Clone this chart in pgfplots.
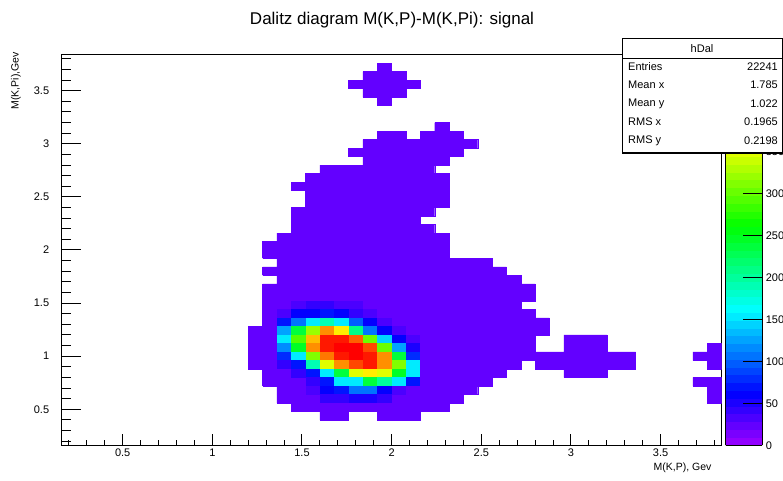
\documentclass[border=0pt]{standalone}
\usepackage{fontspec}
\setmainfont{Liberation Sans}
\usepackage{pgfplots}
\pgfplotsset{compat=1.18}
\pgfdeclareplotmark{binmark}{\pgfpathrectangle{\pgfqpoint{-7.25pt}{-4.35pt}}{\pgfqpoint{14.5pt}{8.7pt}}\pgfusepathqfill}
\definecolor{rootbase}{RGB}{99,0,255}
\begin{document}
\begin{tikzpicture}
\useasboundingbox (0,0) rectangle (783pt,480pt);
\begin{axis}[
  at={(61.7pt,34.6pt)}, anchor=south west,
  scale only axis, width=659.9pt, height=390.8pt,
  xmin=0.16, xmax=3.84, ymin=0.16, ymax=3.84,
  xtick={0,0.5,...,4}, ytick={0,0.5,...,4},
  minor x tick num=4, minor y tick num=4,
  tick pos=left, tick align=inside,
  major tick length=19pt, minor tick length=9.5pt,
  xtick style={/pgfplots/major tick length=11pt,/pgfplots/minor tick length=5.5pt},
  every tick/.style={black, line width=1pt},
  axis line style={line width=1pt},
  tick label style={font=\fontsize{11}{13}\selectfont},
  yticklabel style={xshift=-9pt},
  /pgf/number format/assume math mode=true,
  point meta min=0, point meta max=465,
  colormap={root}{rgb255=(146,0,255) rgb255=(122,0,255) rgb255=(99,0,255) rgb255=(75,0,255) rgb255=(51,0,255) rgb255=(27,0,255) rgb255=(3,0,255) rgb255=(0,20,255) rgb255=(0,44,255) rgb255=(0,68,255) rgb255=(0,92,255) rgb255=(0,116,255) rgb255=(0,139,255) rgb255=(0,163,255) rgb255=(0,187,255) rgb255=(0,211,255) rgb255=(0,235,255) rgb255=(0,255,252) rgb255=(0,255,228) rgb255=(0,255,204) rgb255=(0,255,180) rgb255=(0,255,156) rgb255=(0,255,133) rgb255=(0,255,109) rgb255=(0,255,85) rgb255=(0,255,61) rgb255=(0,255,37) rgb255=(0,255,14) rgb255=(10,255,0) rgb255=(34,255,0) rgb255=(58,255,0) rgb255=(82,255,0) rgb255=(105,255,0) rgb255=(129,255,0) rgb255=(153,255,0) rgb255=(177,255,0) rgb255=(201,255,0) rgb255=(224,255,0) rgb255=(248,255,0) rgb255=(255,238,0) rgb255=(255,214,0) rgb255=(255,190,0) rgb255=(255,167,0) rgb255=(255,143,0) rgb255=(255,119,0) rgb255=(255,95,0) rgb255=(255,71,0) rgb255=(255,48,0) rgb255=(255,24,0) rgb255=(255,0,0)},
  colormap access=piecewise constant,
  colorbar,
  colorbar style={
    at={(parent axis.north east)}, anchor=north west, xshift=-4.6pt,
    scale only axis, width=36.7pt, height=390.8pt,
    ytick={0,50,...,350},
    ytick pos=right, yticklabel pos=right, tick align=inside,
    major tick length=19pt,
    every tick/.style={black, line width=1pt},
    axis line style={line width=1pt},
    yticklabel style={font=\fontsize{11}{13}\selectfont, xshift=0pt},
    /pgf/number format/assume math mode=true,
  },
]
% region of filled bins (low counts), one rectangle per row run
\addplot[draw=rootbase, fill=rootbase, line width=0.35pt, unbounded coords=jump, forget plot] coordinates {
(1.92,3.68) (2.00,3.68) (2.00,3.76) (1.92,3.76) (1.92,3.68) (nan,nan)
(1.84,3.60) (2.08,3.60) (2.08,3.68) (1.84,3.68) (1.84,3.60) (nan,nan)
(1.76,3.52) (2.16,3.52) (2.16,3.60) (1.76,3.60) (1.76,3.52) (nan,nan)
(1.84,3.44) (2.08,3.44) (2.08,3.52) (1.84,3.52) (1.84,3.44) (nan,nan)
(1.92,3.36) (2.00,3.36) (2.00,3.44) (1.92,3.44) (1.92,3.36) (nan,nan)
(2.24,3.12) (2.32,3.12) (2.32,3.20) (2.24,3.20) (2.24,3.12) (nan,nan)
(1.92,3.04) (2.08,3.04) (2.08,3.12) (1.92,3.12) (1.92,3.04) (nan,nan)
(2.16,3.04) (2.40,3.04) (2.40,3.12) (2.16,3.12) (2.16,3.04) (nan,nan)
(1.84,2.96) (2.48,2.96) (2.48,3.04) (1.84,3.04) (1.84,2.96) (nan,nan)
(1.76,2.88) (2.40,2.88) (2.40,2.96) (1.76,2.96) (1.76,2.88) (nan,nan)
(1.84,2.80) (2.32,2.80) (2.32,2.88) (1.84,2.88) (1.84,2.80) (nan,nan)
(1.60,2.72) (2.24,2.72) (2.24,2.80) (1.60,2.80) (1.60,2.72) (nan,nan)
(1.52,2.64) (2.32,2.64) (2.32,2.72) (1.52,2.72) (1.52,2.64) (nan,nan)
(1.44,2.56) (2.32,2.56) (2.32,2.64) (1.44,2.64) (1.44,2.56) (nan,nan)
(1.52,2.48) (2.32,2.48) (2.32,2.56) (1.52,2.56) (1.52,2.48) (nan,nan)
(1.52,2.40) (2.32,2.40) (2.32,2.48) (1.52,2.48) (1.52,2.40) (nan,nan)
(1.44,2.32) (2.24,2.32) (2.24,2.40) (1.44,2.40) (1.44,2.32) (nan,nan)
(1.44,2.24) (2.16,2.24) (2.16,2.32) (1.44,2.32) (1.44,2.24) (nan,nan)
(1.44,2.16) (2.24,2.16) (2.24,2.24) (1.44,2.24) (1.44,2.16) (nan,nan)
(1.36,2.08) (2.32,2.08) (2.32,2.16) (1.36,2.16) (1.36,2.08) (nan,nan)
(1.28,2.00) (2.32,2.00) (2.32,2.08) (1.28,2.08) (1.28,2.00) (nan,nan)
(1.28,1.92) (2.32,1.92) (2.32,2.00) (1.28,2.00) (1.28,1.92) (nan,nan)
(1.36,1.84) (2.56,1.84) (2.56,1.92) (1.36,1.92) (1.36,1.84) (nan,nan)
(1.28,1.76) (2.64,1.76) (2.64,1.84) (1.28,1.84) (1.28,1.76) (nan,nan)
(1.36,1.68) (2.72,1.68) (2.72,1.76) (1.36,1.76) (1.36,1.68) (nan,nan)
(1.28,1.60) (2.80,1.60) (2.80,1.68) (1.28,1.68) (1.28,1.60) (nan,nan)
(1.28,1.52) (2.80,1.52) (2.80,1.60) (1.28,1.60) (1.28,1.52) (nan,nan)
(1.28,1.44) (2.72,1.44) (2.72,1.52) (1.28,1.52) (1.28,1.44) (nan,nan)
(1.28,1.36) (2.80,1.36) (2.80,1.44) (1.28,1.44) (1.28,1.36) (nan,nan)
(1.28,1.28) (2.88,1.28) (2.88,1.36) (1.28,1.36) (1.28,1.28) (nan,nan)
(1.20,1.20) (2.88,1.20) (2.88,1.28) (1.20,1.28) (1.20,1.20) (nan,nan)
(1.20,1.12) (2.80,1.12) (2.80,1.20) (1.20,1.20) (1.20,1.12) (nan,nan)
(1.20,1.04) (2.80,1.04) (2.80,1.12) (1.20,1.12) (1.20,1.04) (nan,nan)
(1.20,0.96) (2.88,0.96) (2.88,1.04) (1.20,1.04) (1.20,0.96) (nan,nan)
(1.20,0.88) (2.72,0.88) (2.72,0.96) (1.20,0.96) (1.20,0.88) (nan,nan)
(1.28,0.80) (2.64,0.80) (2.64,0.88) (1.28,0.88) (1.28,0.80) (nan,nan)
(1.28,0.72) (2.56,0.72) (2.56,0.80) (1.28,0.80) (1.28,0.72) (nan,nan)
(1.36,0.64) (2.48,0.64) (2.48,0.72) (1.36,0.72) (1.36,0.64) (nan,nan)
(1.36,0.56) (2.40,0.56) (2.40,0.64) (1.36,0.64) (1.36,0.56) (nan,nan)
(1.44,0.48) (2.32,0.48) (2.32,0.56) (1.44,0.56) (1.44,0.48) (nan,nan)
(1.60,0.40) (1.76,0.40) (1.76,0.48) (1.60,0.48) (1.60,0.40) (nan,nan)
(1.92,0.40) (2.16,0.40) (2.16,0.48) (1.92,0.48) (1.92,0.40) (nan,nan)
(2.96,1.12) (3.20,1.12) (3.20,1.20) (2.96,1.20) (2.96,1.12) (nan,nan)
(2.96,1.04) (3.20,1.04) (3.20,1.12) (2.96,1.12) (2.96,1.04) (nan,nan)
(2.80,0.96) (3.36,0.96) (3.36,1.04) (2.80,1.04) (2.80,0.96) (nan,nan)
(2.80,0.88) (3.36,0.88) (3.36,0.96) (2.80,0.96) (2.80,0.88) (nan,nan)
(2.96,0.80) (3.20,0.80) (3.20,0.88) (2.96,0.88) (2.96,0.80) (nan,nan)
(3.76,0.88) (3.84,0.88) (3.84,1.12) (3.76,1.12) (3.76,0.88) (nan,nan)
(3.68,0.96) (3.76,0.96) (3.76,1.04) (3.68,1.04) (3.68,0.96) (nan,nan)
(3.76,0.56) (3.84,0.56) (3.84,0.80) (3.76,0.80) (3.76,0.56) (nan,nan)
(3.68,0.72) (3.76,0.72) (3.76,0.80) (3.68,0.80) (3.68,0.72)
};
% bins of the signal peak, bin centre and content
\addplot[scatter, only marks, mark=binmark, point meta=explicit,
  scatter/use mapped color={draw=mapped color, fill=mapped color}] table[meta=z] {
x y z
1.48 1.48 35
1.56 1.48 40
1.64 1.48 40
1.72 1.48 35
1.80 1.48 30
1.40 1.40 35
1.48 1.40 60
1.56 1.40 65
1.64 1.40 70
1.72 1.40 65
1.80 1.40 45
1.88 1.40 35
1.40 1.32 70
1.48 1.32 110
1.56 1.32 150
1.64 1.32 190
1.72 1.32 150
1.80 1.32 100
1.88 1.32 60
1.96 1.32 35
1.40 1.24 130
1.48 1.24 240
1.56 1.24 320
1.64 1.24 400
1.72 1.24 370
1.80 1.24 210
1.88 1.24 110
1.96 1.24 60
2.04 1.24 35
1.40 1.16 150
1.48 1.16 290
1.56 1.16 390
1.64 1.16 455
1.72 1.16 455
1.80 1.16 420
1.88 1.16 300
1.96 1.16 140
2.04 1.16 60
2.12 1.16 30
1.40 1.08 120
1.48 1.08 250
1.56 1.08 400
1.64 1.08 455
1.72 1.08 460
1.80 1.08 460
1.88 1.08 430
1.96 1.08 300
2.04 1.08 130
2.12 1.08 50
1.40 1.00 80
1.48 1.00 150
1.56 1.00 310
1.64 1.00 410
1.72 1.00 450
1.80 1.00 460
1.88 1.00 455
1.96 1.00 400
2.04 1.00 240
2.12 1.00 80
1.40 0.92 40
1.48 0.92 70
1.56 0.92 190
1.64 0.92 350
1.72 0.92 400
1.80 0.92 430
1.88 0.92 450
1.96 0.92 400
2.04 0.92 310
2.12 0.92 150
1.48 0.84 40
1.56 0.84 70
1.64 0.84 150
1.72 0.84 240
1.80 0.84 350
1.88 0.84 370
1.96 0.84 350
2.04 0.84 250
2.12 0.84 150
1.56 0.76 40
1.64 0.76 70
1.72 0.76 150
1.80 0.76 150
1.88 0.76 240
1.96 0.76 200
2.04 0.76 150
2.12 0.76 70
1.56 0.68 35
1.64 0.68 65
1.72 0.68 70
1.80 0.68 110
1.88 0.68 110
1.96 0.68 65
2.04 0.68 35
1.64 0.60 40
1.72 0.60 45
1.80 0.60 50
1.88 0.60 50
1.96 0.60 40
};
\end{axis}
% title, axis titles
\node[font=\fontsize{17}{20}\selectfont] at (392pt,460pt) {Dalitz diagram M(K,P)-M(K,Pi): signal};
\node[font=\fontsize{10.5}{12}\selectfont, anchor=south east] at (715pt,4pt) {M(K,P), Gev};
\node[font=\fontsize{10.5}{12}\selectfont, rotate=90, anchor=east, inner sep=0pt] at (16pt,428pt) {M(K,Pi),Gev};
% statistics box
\draw[fill=white, line width=1pt] (622pt,441pt) rectangle (782pt,327pt);
\draw[line width=0.8pt] (622pt,422pt) -- (782pt,422pt);
\node[font=\fontsize{11}{13}\selectfont] at (702pt,431.5pt) {hDal};
\begin{scope}[every node/.style={font=\fontsize{11}{13}\selectfont, inner sep=0pt}]
\node[anchor=west] at (628pt,413.5pt) {Entries};
\node[anchor=east] at (778pt,413.5pt) {22241};
\node[anchor=west] at (628pt,395pt) {Mean x};
\node[anchor=east] at (778pt,395pt) {1.785};
\node[anchor=west] at (628pt,376.5pt) {Mean y};
\node[anchor=east] at (778pt,376.5pt) {1.022};
\node[anchor=west] at (628pt,358pt) {RMS x};
\node[anchor=east] at (778pt,358pt) {0.1965};
\node[anchor=west] at (628pt,339.5pt) {RMS y};
\node[anchor=east] at (778pt,339.5pt) {0.2198};
\end{scope}
\end{tikzpicture}
\end{document}
